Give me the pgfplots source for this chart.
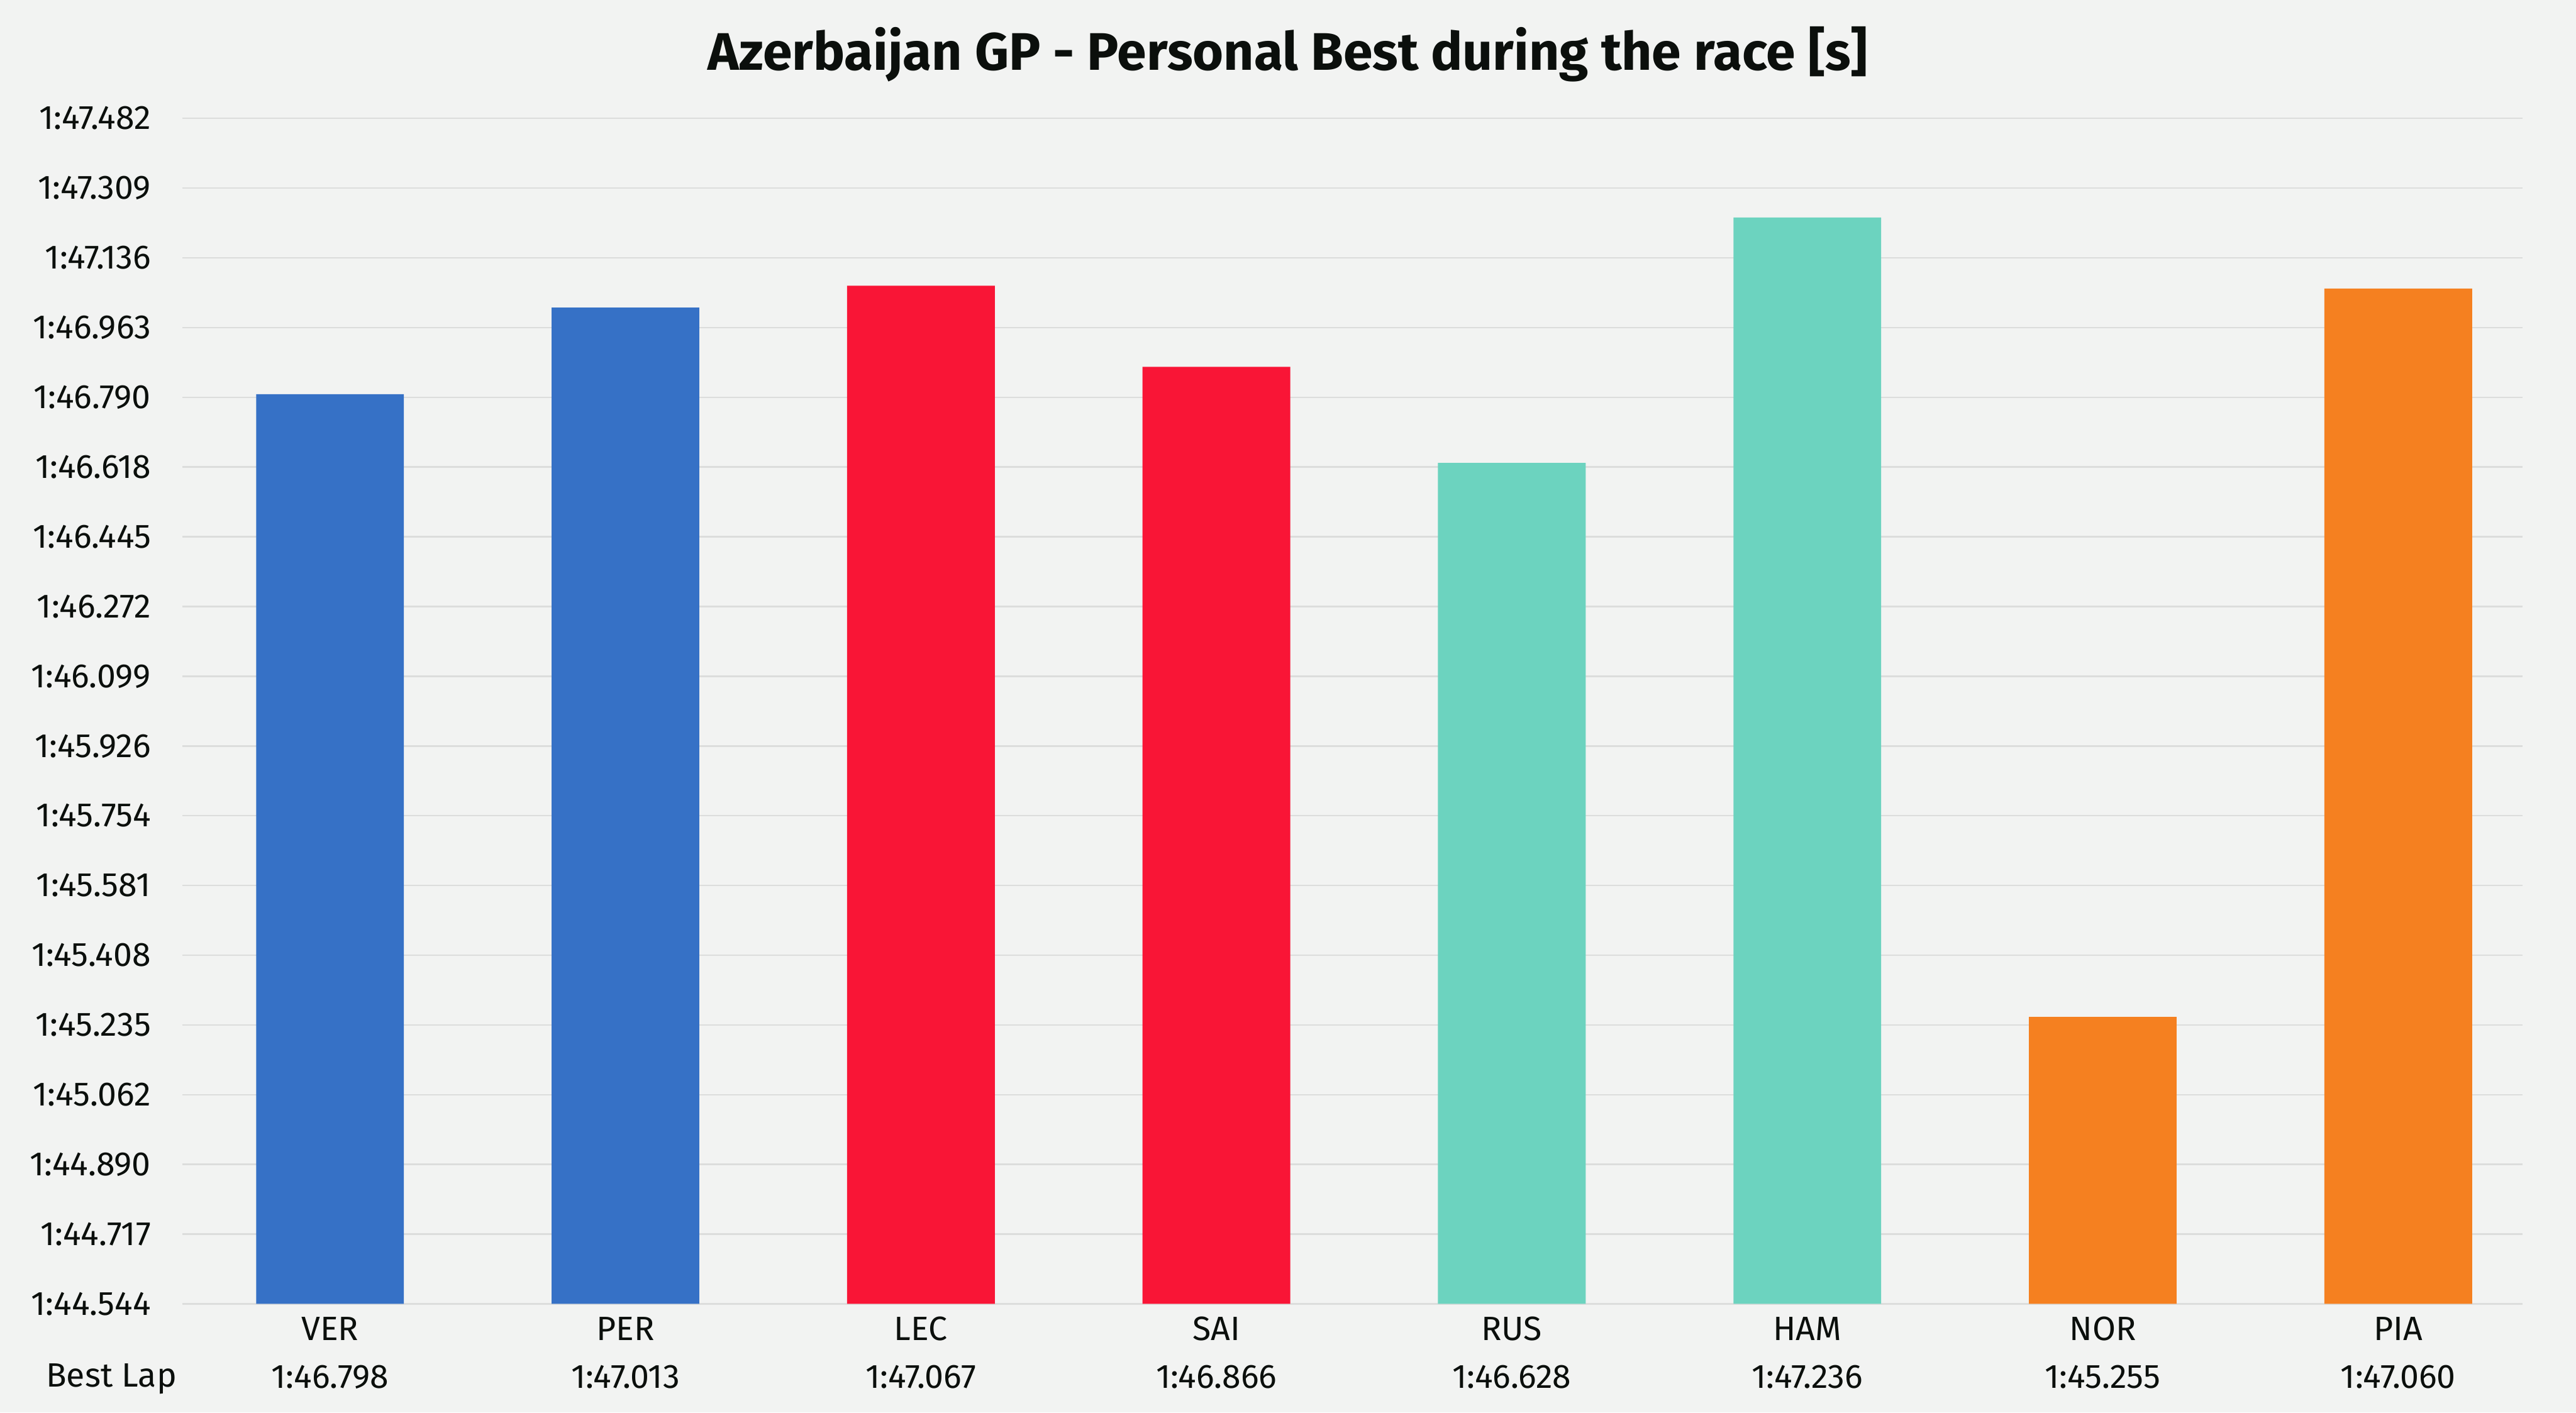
\documentclass[border=0pt]{standalone}
\usepackage{pgfplots}
\pgfplotsset{compat=1.18}
\usepackage{fontspec}
\setmainfont{Fira Sans}

\definecolor{bgc}{HTML}{F2F3F2}
\definecolor{txt}{HTML}{0B0F0C}
\definecolor{gridc}{HTML}{DCDDDC}
\definecolor{rbr}{HTML}{3671C6}
\definecolor{fer}{HTML}{F91536}
\definecolor{mer}{HTML}{6CD3BF}
\definecolor{mcl}{HTML}{F58020}

\begin{document}
\begin{tikzpicture}
% page background, also fixes the picture size
\fill[bgc] (-63.8pt,-38pt) rectangle (837.8pt,456.4pt);
\begin{axis}[
    at={(0,0)}, anchor=south west,
    scale only axis,
    width=819pt, height=415pt,
    ybar, bar width=0.5, bar shift=0pt,
    xmin=-0.5, xmax=7.42,
    ymin=104.544, ymax=107.482,
    axis line style={draw=none},
    major tick length=0pt,
    ymajorgrids, grid style={gridc, line width=0.5pt},
    ytick={104.544,104.717,104.890,105.062,105.235,105.408,105.581,105.754,105.926,106.099,106.272,106.445,106.618,106.790,106.963,107.136,107.309,107.482},
    yticklabels={1:44.544,1:44.717,1:44.890,1:45.062,1:45.235,1:45.408,1:45.581,1:45.754,1:45.926,1:46.099,1:46.272,1:46.445,1:46.618,1:46.790,1:46.963,1:47.136,1:47.309,1:47.482},
    xtick={0,...,7},
    xticklabels={{VER\\1:46.798},{PER\\1:47.013},{LEC\\1:47.067},{SAI\\1:46.866},{RUS\\1:46.628},{HAM\\1:47.236},{NOR\\1:45.255},{PIA\\1:47.060}},
    yticklabel style={anchor=east, inner sep=0pt, xshift=-10.8pt, font=\fontsize{11.8}{13}\selectfont, text=txt},
    xticklabel style={anchor=north, inner sep=0pt, yshift=-4.4pt, align=center, font=\fontsize{11.8}{16.7}\selectfont, text=txt},
    title={Azerbaijan GP - Personal Best during the race [s]},
    title style={font=\bfseries\fontsize{18.5}{22}\selectfont, text=txt, anchor=center, at={(0.4725,1)}, yshift=16.4pt},
]
\addplot[fill=rbr, draw=none] coordinates {(0,106.798) (1,107.013)};
\addplot[fill=fer, draw=none] coordinates {(2,107.067) (3,106.866)};
\addplot[fill=mer, draw=none] coordinates {(4,106.628) (5,107.236)};
\addplot[fill=mcl, draw=none] coordinates {(6,105.255) (7,107.060)};
\end{axis}
\node[anchor=base, text=txt, font=\fontsize{11.8}{13}\selectfont] at (-24.8pt,-29.1pt) {Best Lap};
\end{tikzpicture}
\end{document}
